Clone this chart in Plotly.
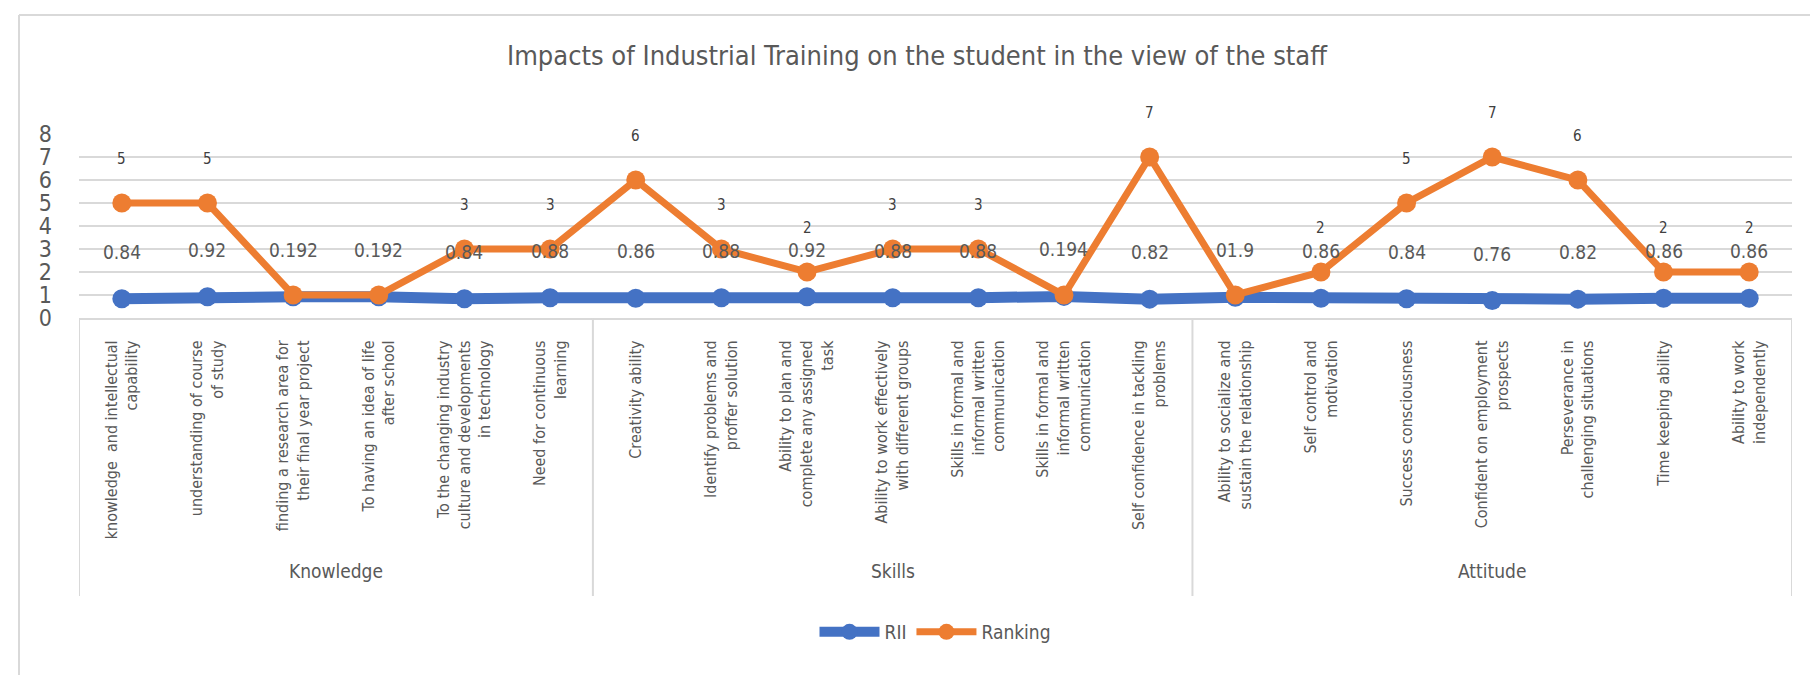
import plotly.graph_objects as go

# Dados
categories = [
    "knowledge  and intellectual<br>capability",
    "understanding of course<br>of study",
    "finding a research area for<br>their final year project",
    "To having an idea of life<br>after school",
    "To the changing industry<br>culture and developments<br>in technology",
    "Need for continuous<br>learning",
    "Creativity ability",
    "Identify problems and<br>proffer solution",
    "Ability to plan and<br>complete any assigned<br>task",
    "Ability to work effectively<br>with different groups",
    "Skills in formal and<br>informal written<br>communication",
    "Skills in formal and<br>informal written<br>communication",
    "Self confidence in tackling<br>problems",
    "Ability to socialize and<br>sustain the relationship",
    "Self control and<br>motivation",
    "Success consciousness",
    "Confident on employment<br>prospects",
    "Perseverance in<br>challenging situations",
    "Time keeping ability",
    "Ability to work<br>independently",
]
groups = ["Knowledge", "Skills", "Attitude"]
group_sizes = [6, 7, 7]

rii_values = [0.84, 0.92, 0.92, 0.92, 0.84, 0.88, 0.86, 0.88, 0.92, 0.88,
              0.88, 0.94, 0.82, 0.90, 0.86, 0.84, 0.76, 0.82, 0.86, 0.86]
rii_labels = ["0.84", "0.92", "0.192", "0.192", "0.84", "0.88", "0.86", "0.88", "0.92", "0.88",
              "0.88", "0.194", "0.82", "01.9", "0.86", "0.84", "0.76", "0.82", "0.86", "0.86"]
ranking_values = [5, 5, 1, 1, 3, 3, 6, 3, 2, 3, 3, 1, 7, 1, 2, 5, 7, 6, 2, 2]
ranking_labels = ["5", "5", "", "", "3", "3", "6", "3", "2", "3",
                  "3", "", "7", "", "2", "5", "7", "6", "2", "2"]
y_ticks = [0, 1, 2, 3, 4, 5, 6, 7, 8]

BLUE = "#4472C4"
ORANGE = "#ED7D31"
TEXT = "#595959"
GRID = "#D9D9D9"
FONT = "Liberation Sans Narrow, Arial Narrow, DejaVu Sans Condensed, sans-serif"

W, H = 1818, 675
L, R, T, B = 71, 34, 126, 365
plot_h = H - T - B
plot_w = W - L - R


def paper_y(pixel_y):
    return (H - B - pixel_y) / plot_h


def paper_x(pixel_x):
    return (pixel_x - L) / plot_w


x_pos = list(range(len(categories)))

fig = go.Figure()
fig.add_trace(go.Scatter(
    x=x_pos, y=rii_values, name="RII", mode="lines+markers",
    line=dict(color=BLUE, width=11),
    marker=dict(color=BLUE, size=19),
))
fig.add_trace(go.Scatter(
    x=x_pos, y=ranking_values, name="Ranking", mode="lines+markers",
    line=dict(color=ORANGE, width=7),
    marker=dict(color=ORANGE, size=19),
))

annotations = []
for i, (v, t) in enumerate(zip(rii_values, rii_labels)):
    annotations.append(dict(x=i, y=v, text=t, showarrow=False, yshift=47,
                            font=dict(size=19, color=TEXT, family=FONT)))
for i, (v, t) in enumerate(zip(ranking_values, ranking_labels)):
    if t:
        annotations.append(dict(x=i, y=v, text=t, showarrow=False, yshift=44,
                                font=dict(size=15, color="#404040", family=FONT)))

# Rótulos de grupo e divisórias do eixo de categorias
shapes = []
start = -0.5
shapes.append(dict(type="line", xref="x", yref="paper", x0=start, x1=start,
                   y0=0, y1=paper_y(588), line=dict(color=GRID, width=2)))
for g, n in zip(groups, group_sizes):
    end = start + n
    annotations.append(dict(x=(start + end) / 2, xref="x", y=paper_y(563), yref="paper",
                            text=g, showarrow=False, yanchor="middle",
                            font=dict(size=19, color=TEXT, family=FONT)))
    shapes.append(dict(type="line", xref="x", yref="paper", x0=end, x1=end,
                       y0=0, y1=paper_y(588), line=dict(color=GRID, width=2)))
    start = end

# Borda externa do gráfico (topo e esquerda)
shapes.append(dict(type="line", xref="paper", yref="paper", x0=paper_x(11), x1=paper_x(W + 5),
                   y0=paper_y(7), y1=paper_y(7), line=dict(color=GRID, width=2)))
shapes.append(dict(type="line", xref="paper", yref="paper", x0=paper_x(11), x1=paper_x(11),
                   y0=paper_y(7), y1=paper_y(H + 5), line=dict(color=GRID, width=2)))

fig.update_layout(
    width=W, height=H,
    margin=dict(l=L, r=R, t=T, b=B),
    paper_bgcolor="white", plot_bgcolor="white",
    font=dict(family=FONT, color=TEXT),
    title=dict(text="Impacts of Industrial Training on the student in the view of the staff",
               x=0.5, xref="container", y=1 - 48 / H, yref="container", yanchor="middle",
               font=dict(size=27, color=TEXT, family=FONT)),
    xaxis=dict(
        range=[-0.5, len(categories) - 0.5],
        tickmode="array", tickvals=x_pos, ticktext=categories,
        tickangle=-90, tickfont=dict(size=16, color=TEXT, family=FONT),
        showgrid=False, zeroline=False, showline=True, linecolor=GRID, linewidth=2,
        ticks="", ticklabelstandoff=14,
    ),
    yaxis=dict(
        range=[0, 8], tickmode="array", tickvals=y_ticks,
        tickfont=dict(size=23, color=TEXT, family=FONT),
        showgrid=True, gridcolor=GRID, gridwidth=2, zeroline=False, showline=False,
        ticks="", ticklabelstandoff=26,
    ),
    legend=dict(orientation="h", x=0.5, xanchor="center", y=paper_y(624), yanchor="middle",
                font=dict(size=19, color=TEXT, family=FONT), itemwidth=60),
    annotations=annotations,
    shapes=shapes,
)

fig.write_html("out.html")
